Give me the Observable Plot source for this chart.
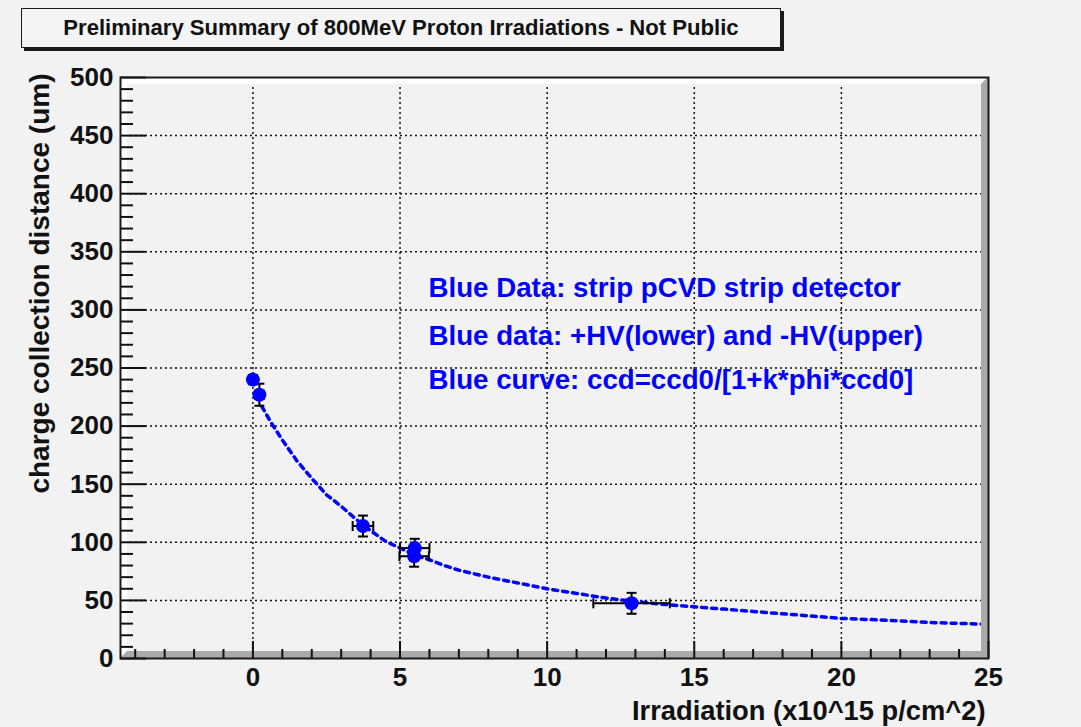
<!DOCTYPE html>
<html><head><meta charset="utf-8">
<script src="https://cdn.jsdelivr.net/npm/d3@7"></script>
<script src="https://cdn.jsdelivr.net/npm/@observablehq/plot@0.6"></script>
<style>
html,body{margin:0;padding:0;background:#f2f2f2;width:1081px;height:727px;overflow:hidden;font-family:"Liberation Sans",Arial,Helvetica,sans-serif;}
#head{position:relative;height:60px;}
#title{position:absolute;left:21px;top:8px;width:758px;height:38px;border:1.5px solid #1a1a1a;box-shadow:3px 3px 0 #1a1a1a;background:#f4f4f4;font-weight:bold;font-size:22.1px;line-height:38px;text-align:center;color:#111;white-space:nowrap;}
#chart svg{display:block;}
</style></head><body>
<div id="head"><div id="title"></div></div>
<div id="chart"></div>
<script>
// ---- text ----
const titleText = "Preliminary Summary of 800MeV Proton Irradiations - Not Public";
const yLabel = "charge collection distance (um)";
const xLabel = "Irradiation (x10^15 p/cm^2)";
const legendLines = [
  "Blue Data: strip pCVD strip detector",
  "Blue data: +HV(lower) and -HV(upper)",
  "Blue curve: ccd=ccd0/[1+k*phi*ccd0]"
];
// ---- ticks ----
const xMajor = [0, 5, 10, 15, 20, 25];
const yMajor = [0, 50, 100, 150, 200, 250, 300, 350, 400, 450, 500];
// ---- measured points ----
const phi    = [0,   0.22, 3.74, 5.5, 5.48, 12.87];
const ccd    = [240, 227,  114,  95,  88,   47.5];
const phiErr = [0.1, 0.15, 0.35, 0.5, 0.5,  1.3];
const ccdErr = [4,   9.5,  9,    8,   9,    9];
// ---- fitted curve ----
const fitPhi = [0.3, 0.62, 1, 1.5, 2, 2.5, 3, 3.5, 4, 4.5, 5, 5.5, 6, 6.5, 7, 8, 9, 10, 11, 12, 13, 14, 15, 16, 17, 18, 19, 20, 21, 22, 23, 24, 25];
const fitCcd = [217, 203, 188, 170, 155, 141, 131, 120, 110, 101, 95, 89, 85, 80, 76, 70, 65, 60, 56, 52, 49, 46.5, 44.5, 42.5, 40.5, 38.5, 36.5, 34.5, 33.5, 32.3, 31, 30.2, 29.5];

document.getElementById("title").textContent = titleText;

const points = phi.map((p, i) => ({phi: p, ccd: ccd[i], ex: phiErr[i], ey: ccdErr[i]}));
const fit = fitPhi.map((p, i) => ({phi: p, ccd: fitCcd[i]}));

const W = 1081, H = 667, mL = 120, mR = 93, mT = 17, mB = 69;
const innerW = W - mL - mR, innerH = H - mT - mB;
const xMinor = d3.range(-4, 26, 1).filter(v => !xMajor.includes(v));
const yMinor = d3.range(0, 501, 10).filter(v => !yMajor.includes(v));

const hcap = {draw(ctx, size) { const r = Math.sqrt(size / Math.PI); ctx.moveTo(-r, 0); ctx.lineTo(r, 0); }};
const vcap = {draw(ctx, size) { const r = Math.sqrt(size / Math.PI); ctx.moveTo(0, -r); ctx.lineTo(0, r); }};

function bevel(index, scales, values, dim) {
  const x0 = dim.marginLeft, x1 = dim.width - dim.marginRight, y0 = dim.marginTop, y1 = dim.height - dim.marginBottom, w = 7;
  const g = d3.create("svg:g");
  g.append("path").attr("d", `M${x0},${y0}H${x1}L${x1-w},${y0+w}H${x0+w}V${y1-w}L${x0},${y1}Z`).attr("fill", "#ffffff");
  g.append("path").attr("d", `M${x1},${y0}V${y1}H${x0}L${x0+w},${y1-w}H${x1-w}V${y0+w}Z`).attr("fill", "#aaaaaa");
  return g.node();
}

const tickFont = {fontSize: 26, fontWeight: "bold"};
const labelFont = {fontWeight: "bold", lineAnchor: "middle"};
const grid = {stroke: "#111", strokeOpacity: 1, strokeWidth: 1.5, strokeDasharray: "2,3"};
const legendStyle = {frameAnchor: "top-left", lineAnchor: "middle", dx: 308, textAnchor: "start", fontSize: 27.7, fontWeight: "bold", fill: "#0000ff"};

const chart = Plot.plot({
  width: W, height: H,
  marginLeft: mL, marginRight: mR, marginTop: mT, marginBottom: mB,
  x: {domain: [-4.5, 25]},
  y: {domain: [0, 500]},
  style: {background: "transparent", fontFamily: '"Liberation Sans", Arial, Helvetica, sans-serif', fontSize: "24px", overflow: "visible", color: "#111"},
  marks: [
    Plot.gridX(xMajor.filter(v => v < 25), grid),
    Plot.gridY(yMajor.filter(v => v > 0 && v < 500), grid),
    Plot.line(fit, {x: "phi", y: "ccd", stroke: "#0000ff", strokeWidth: 3.5, strokeDasharray: "5,5"}),
    bevel,
    Plot.ruleX(points, {x: "phi", y1: d => d.ccd - d.ey, y2: d => d.ccd + d.ey, stroke: "black", strokeWidth: 2}),
    Plot.ruleY(points, {y: "ccd", x1: d => d.phi - d.ex, x2: d => d.phi + d.ex, stroke: "black", strokeWidth: 2}),
    Plot.dot(points, {x: "phi", y: d => d.ccd + d.ey, symbol: hcap, r: 5, stroke: "black", strokeWidth: 2, fill: "none"}),
    Plot.dot(points, {x: "phi", y: d => d.ccd - d.ey, symbol: hcap, r: 5, stroke: "black", strokeWidth: 2, fill: "none"}),
    Plot.dot(points, {x: d => d.phi - d.ex, y: "ccd", symbol: vcap, r: 5, stroke: "black", strokeWidth: 2, fill: "none"}),
    Plot.dot(points, {x: d => d.phi + d.ex, y: "ccd", symbol: vcap, r: 5, stroke: "black", strokeWidth: 2, fill: "none"}),
    Plot.dot(points, {x: "phi", y: "ccd", r: 7, fill: "#0000ff", stroke: null}),
    Plot.tickY(yMinor, {y: d => d, insetRight: innerW - 13, stroke: "#111", strokeWidth: 2}),
    Plot.tickY(yMajor, {y: d => d, insetRight: innerW - 26, stroke: "#111", strokeWidth: 2}),
    Plot.tickX(xMinor, {x: d => d, insetTop: innerH - 9, stroke: "#111", strokeWidth: 2}),
    Plot.tickX(xMajor, {x: d => d, insetTop: innerH - 17, stroke: "#111", strokeWidth: 2}),
    Plot.frame({stroke: "#1a1a1a", strokeWidth: 2}),
    Plot.axisY(yMajor, {tickSize: 0, tickPadding: 7, label: null, ...tickFont, fill: "#111"}),
    Plot.axisX(xMajor, {tickSize: 0, tickPadding: 9, label: null, ...tickFont, fill: "#111"}),
    Plot.text([yLabel], {frameAnchor: "top-left", dx: -80, dy: -4, rotate: -90, textAnchor: "end", fontSize: 28, ...labelFont, fill: "#111"}),
    Plot.text([xLabel], {frameAnchor: "bottom-right", dx: -3, dy: 52.5, textAnchor: "end", fontSize: 27.3, ...labelFont, fill: "#111"}),
    Plot.text([legendLines[0]], {...legendStyle, dy: 210.9}),
    Plot.text([legendLines[1]], {...legendStyle, dy: 259.1}),
    Plot.text([legendLines[2]], {...legendStyle, dy: 302.4})
  ]
});
document.getElementById("chart").appendChild(chart);
</script>
</body></html>
